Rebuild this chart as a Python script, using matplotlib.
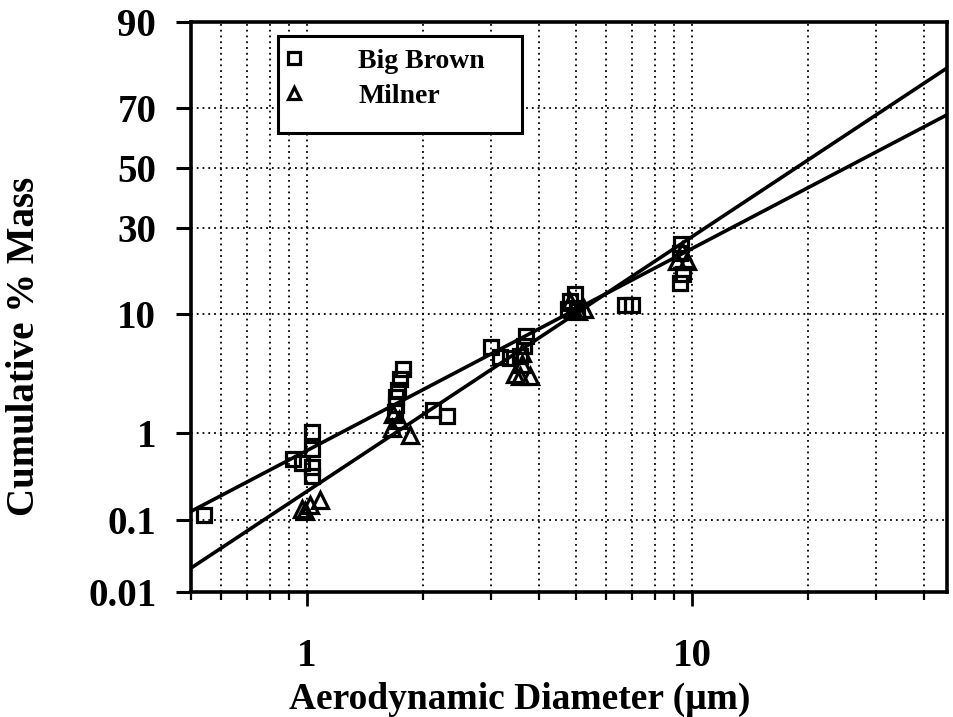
import numpy as np
import matplotlib
matplotlib.use("Agg")
import matplotlib.pyplot as plt
from matplotlib.patches import Rectangle
from statistics import NormalDist

# data: diameter (um), cumulative % mass
bb_x = [0.54, 0.92, 0.97, 1.03, 1.03, 1.03, 1.03,
        1.78, 1.75, 1.72, 1.70, 1.70, 1.69,
        2.12, 2.31,
        3.01, 3.17, 3.37, 3.70, 3.66, 3.57,
        4.97, 4.82, 4.76, 5.02,
        6.70, 6.98,
        9.36, 9.30, 9.47, 9.30]
bb_y = [0.116, 0.54, 0.48, 1.04, 0.69, 0.44, 0.35,
        3.9, 3.2, 2.6, 2.24, 1.89, 1.62,
        1.70, 1.49,
        5.8, 4.9, 4.8, 7.0, 5.9, 5.0,
        13.5, 12.1, 10.9, 10.5,
        11.5, 11.5,
        25.4, 22.9, 17.7, 15.7]

mi_x = [0.97, 1.02, 1.08, 0.99,
        1.66, 1.74, 1.85, 1.67,
        3.47, 3.57, 3.80, 3.61, 3.61,
        4.91, 5.07, 5.24, 4.82,
        9.42, 9.70, 9.15]
mi_y = [0.138, 0.155, 0.18, 0.13,
        1.13, 1.35, 0.97, 1.55,
        3.57, 3.4, 3.4, 4.3, 5.2,
        10.9, 10.5, 10.9, 12.0,
        23.4, 20.8, 20.8]

# fitted lines (end points)
bb_fit_x = [0.5, 46]
bb_fit_y = [0.13, 68]
mi_fit_x = [0.5, 46]
mi_fit_y = [0.0225, 81]

y_ticks = [0.01, 0.1, 1, 10, 30, 50, 70, 90]
y_labels = ["0.01", "0.1", "1", "10", "30", "50", "70", "90"]
x_major = [1, 10]
x_minor = [0.5, 0.6, 0.7, 0.8, 0.9, 2, 3, 4, 5, 6, 7, 8, 9, 20, 30, 40]

_nd = NormalDist()
_ppf_v = np.vectorize(_nd.inv_cdf, otypes=[float])
_cdf_v = np.vectorize(_nd.cdf, otypes=[float])


def prob_fwd(p):
    p = np.clip(np.asarray(p, dtype=float) / 100.0, 1e-12, 1 - 1e-12)
    return _ppf_v(p)


def prob_inv(z):
    return _cdf_v(np.asarray(z, dtype=float)) * 100.0


serif = "Liberation Serif"

fig = plt.figure(figsize=(9.54, 7.17), dpi=100)
ax = fig.add_axes([0.2002, 0.1743, 0.7925, 0.795])

ax.set_xscale("log")
ax.set_yscale("function", functions=(prob_fwd, prob_inv))
ax.set_xlim(0.5, 46)
ax.set_ylim(0.01, 90)

ax.plot(bb_fit_x, bb_fit_y, color="k", lw=2.6, zorder=3)
ax.plot(mi_fit_x, mi_fit_y, color="k", lw=2.6, zorder=3)
h1, = ax.plot(bb_x, bb_y, "s", mfc="none", mec="k", ms=10.5, mew=2.3,
              label="Big Brown", zorder=4, clip_on=False)
h2, = ax.plot(mi_x, mi_y, "^", mfc="none", mec="k", ms=11.5, mew=2.3,
              label="Milner", zorder=4, clip_on=False)

ax.set_yticks(y_ticks, labels=y_labels)
ax.yaxis.set_minor_locator(matplotlib.ticker.NullLocator())
ax.set_xticks(x_major, labels=["1", "10"])
ax.set_xticks(x_minor, minor=True)
ax.xaxis.set_minor_formatter(matplotlib.ticker.NullFormatter())

for lab in ax.get_xticklabels() + ax.get_yticklabels():
    lab.set_fontfamily(serif)
    lab.set_fontweight("bold")
    lab.set_fontsize(28)

ax.tick_params(axis="y", which="major", direction="out", length=11,
               width=2.2, pad=14)
ax.tick_params(axis="x", which="major", direction="out", length=10,
               width=2, pad=23)
ax.tick_params(axis="x", which="minor", direction="out", length=6,
               width=1.6)

ax.grid(True, which="major", axis="y", color="k", lw=1.3,
        linestyle=(0, (1, 2.2)))
ax.grid(True, which="both", axis="x", color="k", lw=1.3,
        linestyle=(0, (1, 2.2)))

for s in ax.spines.values():
    s.set_linewidth(2.6)

ax.set_xlabel("Aerodynamic Diameter (\u03bcm)", fontfamily=serif,
              fontweight="bold", fontsize=27)
ax.xaxis.set_label_coords(0.435, -0.157)
ax.set_ylabel("Cumulative % Mass", fontfamily=serif,
              fontweight="bold", fontsize=28)
ax.yaxis.set_label_coords(-0.196, 0.431)

# legend box is taller than its entries
ax.add_patch(Rectangle((0.115, 0.806), 0.323, 0.17, transform=ax.transAxes,
                       fill=True, fc="white", ec="k", lw=2.2, zorder=5))
leg = ax.legend(handles=[h1, h2], loc="upper left",
                bbox_to_anchor=(0.085, 0.998), frameon=False,
                prop={"family": serif, "size": 20, "weight": "bold"},
                handlelength=1.0, handletextpad=1.8, labelspacing=0.35,
                markerscale=0.8)
leg.set_zorder(6)

fig.savefig("out.png", dpi=100)
